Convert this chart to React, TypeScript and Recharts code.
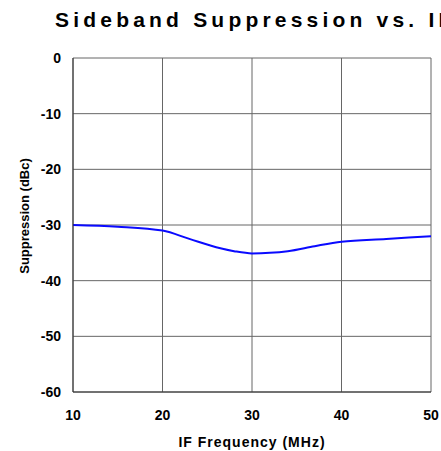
import React from 'react'
import { LineChart, Line, XAxis, YAxis, CartesianGrid } from 'recharts'

// IF frequency (MHz) vs sideband suppression (dBc)
const freqMHz = [10, 15, 20, 23, 26, 28, 30, 32, 34, 37, 40, 45, 50]
const suppressionDbc = [-30, -30.3, -31, -32.5, -34, -34.7, -35.1, -35, -34.7, -33.8, -33, -32.5, -32]

const xTicks = [10, 20, 30, 40, 50]
const yTicks = [0, -10, -20, -30, -40, -50, -60]

const data = freqMHz.map((f, i) => ({ freq: f, supp: suppressionDbc[i] }))

const FONT = '"Liberation Sans", Arial, sans-serif'

export default function App() {
  return (
    <div
      style={{
        position: 'absolute',
        left: 0,
        top: 0,
        width: 441,
        height: 451,
        overflow: 'hidden',
        background: '#fff',
        fontFamily: FONT,
      }}
    >
      {/* title runs past the right edge, as in the original */}
      <div
        style={{
          position: 'absolute',
          left: 55,
          top: 10,
          fontSize: 21,
          lineHeight: '20px',
          fontWeight: 'bold',
          letterSpacing: '4.2px',
          whiteSpace: 'nowrap',
          color: '#000',
        }}
      >
        Sideband Suppression vs. IF
      </div>
      <LineChart
        width={441}
        height={451}
        data={data}
        margin={{ top: 58, right: 10, bottom: 0, left: 0 }}
      >
        <CartesianGrid stroke="#666" strokeWidth={1} />
        <XAxis
          dataKey="freq"
          type="number"
          domain={[10, 50]}
          ticks={xTicks}
          height={59}
          tickSize={0}
          tickMargin={18}
          axisLine={{ stroke: '#303030' }}
          tick={{ fontSize: 14, fontWeight: 'bold', fill: '#000', fontFamily: FONT }}
          label={{
            value: 'IF Frequency (MHz)',
            position: 'insideBottom',
            offset: 4,
            style: { fontSize: 14, fontWeight: 'bold', fill: '#000', letterSpacing: '1px', fontFamily: FONT },
          }}
        />
        <YAxis
          type="number"
          domain={[-60, 0]}
          ticks={yTicks}
          width={73}
          tickSize={0}
          tickMargin={12}
          axisLine={{ stroke: '#303030' }}
          tick={{ fontSize: 14, fontWeight: 'bold', fill: '#000', fontFamily: FONT }}
          label={{
            content: () => (
              <text
                x={24}
                y={216}
                transform="rotate(-90, 24, 216)"
                textAnchor="middle"
                dominantBaseline="central"
                style={{ fontSize: 13, fontWeight: 'bold', fill: '#000', fontFamily: FONT }}
              >
                Suppression (dBc)
              </text>
            ),
          }}
        />
        <Line
          type="monotone"
          dataKey="supp"
          stroke="#0a0aff"
          strokeWidth={2}
          dot={false}
          isAnimationActive={false}
        />
      </LineChart>
    </div>
  )
}
